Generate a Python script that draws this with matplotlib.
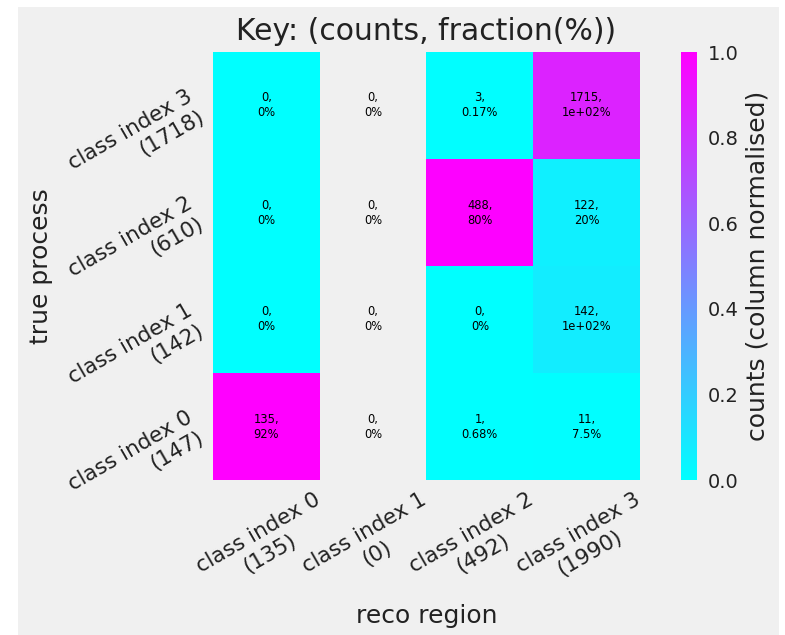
import numpy as np
import matplotlib
matplotlib.use("Agg")
import matplotlib.pyplot as plt
from matplotlib.patches import Rectangle

# ---- data ----
class_names = ["class index 0", "class index 1", "class index 2", "class index 3"]
# counts per true process (row), over reco regions (columns 0..3)
counts_true0 = [135, 0, 1, 11]
counts_true1 = [0, 0, 0, 142]
counts_true2 = [0, 0, 488, 122]
counts_true3 = [0, 0, 3, 1715]

counts = np.array([counts_true0, counts_true1, counts_true2, counts_true3], dtype=float)
row_tot = counts.sum(axis=1)
col_tot = counts.sum(axis=0)
with np.errstate(invalid="ignore", divide="ignore"):
    col_norm = counts / col_tot[None, :]
col_norm = np.ma.masked_invalid(col_norm)
row_frac = 100.0 * counts / row_tot[:, None]

BG = "#f0f0f0"
W, H = 785, 635
fig = plt.figure(figsize=(W / 100, H / 100), dpi=100)
fig.patch.set_facecolor("white")
fig.patches.append(Rectangle((18 / W, 0), (779 - 18) / W, (635 - 7) / H,
                             transform=fig.transFigure, facecolor=BG,
                             edgecolor="none", zorder=-10))

ax = fig.add_axes([213 / W, (H - 480) / H, 427 / W, 428 / H])
ax.set_facecolor(BG)
im = ax.imshow(col_norm, cmap="cool", vmin=0, vmax=1, origin="lower",
               aspect="auto", interpolation="nearest")
for s in ax.spines.values():
    s.set_visible(False)
ax.grid(False)

n = len(class_names)
for i in range(n):
    for j in range(n):
        ax.text(j, i, f"{int(counts[i, j])},\n{row_frac[i, j]:.2g}%",
                ha="center", va="center", fontsize=8.3, color="black")

xlabels = [f"{c}\n({int(t)})" for c, t in zip(class_names, col_tot)]
ylabels = [f"{c}\n({int(t)})" for c, t in zip(class_names, row_tot)]
ax.set_xticks(np.arange(n) + 0.44)
ax.set_xticklabels(xlabels, rotation=30, ha="right", va="top",
                   rotation_mode="anchor", multialignment="center", fontsize=15.5)
ax.set_yticks(np.arange(n))
ax.set_yticklabels(ylabels, rotation=30, ha="right", va="center",
                   rotation_mode="anchor", multialignment="right", fontsize=15.5)
ax.tick_params(axis="x", length=0, pad=7, colors="#222222")
ax.tick_params(axis="y", length=0, pad=12, colors="#222222")
ax.set_xlim(-0.5, n - 0.5)
ax.set_ylim(-0.5, n - 0.5)

ax.set_xlabel("reco region", fontsize=18, color="#222222")
ax.xaxis.set_label_coords(0.5, -0.29)
ax.set_ylabel("true process", fontsize=18, color="#222222")
ax.yaxis.set_label_coords(-0.375, 0.5)
ax.set_title("Key: (counts, fraction(%))", fontsize=21.5, color="#222222", pad=9)

cax = fig.add_axes([681 / W, (H - 480) / H, 16 / W, 428 / H])
cb = fig.colorbar(im, cax=cax)
cb.outline.set_visible(False)
cb.set_ticks([0.0, 0.2, 0.4, 0.6, 0.8, 1.0])
cax.tick_params(length=0, pad=8, labelsize=14, colors="#222222")
cb.set_label("counts (column normalised)", fontsize=18, color="#222222", labelpad=5)

fig.savefig("out.png", dpi=100)
